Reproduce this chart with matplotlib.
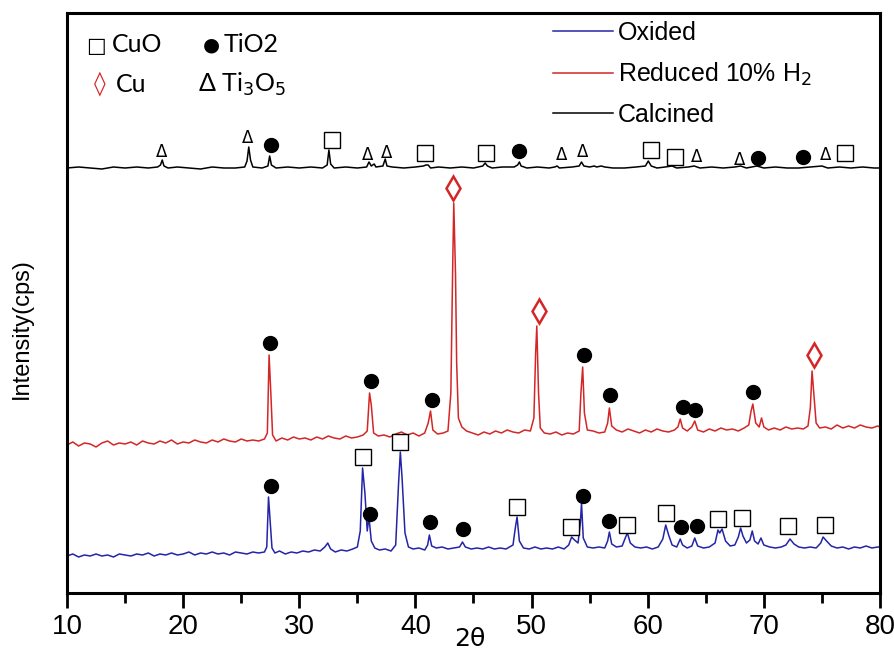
import matplotlib
matplotlib.use("Agg")
import matplotlib.pyplot as plt

# ---- data (2theta, intensity in arbitrary cps, stacked traces) ----
oxided_x = [10.0, 10.5, 11.0, 11.5, 12.0, 12.5, 13.0, 13.5, 14.0, 14.5, 15.0, 15.5, 16.0, 16.5,
            17.0, 17.5, 18.0, 18.5, 19.0, 19.5, 20.0, 20.5, 21.0, 21.5, 22.0, 22.5, 23.0, 23.5,
            24.0, 24.5, 25.0, 25.5, 26.0, 26.5, 27.0, 27.2, 27.35, 27.5, 27.65, 27.9, 28.3, 28.8,
            29.3, 29.8, 30.3, 30.8, 31.3, 31.8, 32.2, 32.45, 32.7, 33.1, 33.6, 34.1, 34.6, 35.0,
            35.25, 35.45, 35.65, 35.85, 36.0, 36.2, 36.5, 36.9, 37.4, 37.9, 38.3, 38.55, 38.7,
            38.85, 39.1, 39.4, 39.8, 40.3, 40.8, 41.05, 41.2, 41.4, 41.8, 42.3, 42.8, 43.3, 43.8,
            44.05, 44.3, 44.8, 45.3, 45.8, 46.3, 46.8, 47.3, 47.8, 48.4, 48.6, 48.75, 48.95, 49.3,
            49.8, 50.3, 50.8, 51.3, 51.8, 52.3, 52.8, 53.2, 53.45, 53.7, 54.0, 54.2, 54.3, 54.45,
            54.8, 55.3, 55.8, 56.3, 56.55, 56.7, 56.9, 57.3, 57.8, 58.1, 58.25, 58.5, 58.9, 59.4,
            59.9, 60.4, 60.9, 61.3, 61.55, 61.8, 62.1, 62.5, 62.8, 63.0, 63.4, 63.8, 64.05, 64.3,
            64.8, 65.3, 65.8, 66.05, 66.2, 66.4, 66.7, 67.1, 67.5, 67.8, 68.0, 68.2, 68.5, 68.8,
            69.0, 69.2, 69.5, 69.75, 70.0, 70.5, 71.0, 71.5, 71.9, 72.25, 72.6, 73.0, 73.5, 74.0,
            74.5, 74.9, 75.1, 75.4, 75.8, 76.3, 76.8, 77.3, 77.8, 78.3, 78.8, 79.3, 79.8, 80.0]
oxided_y = [37, 39, 36, 38, 37, 39, 37, 38, 36, 39, 38, 37, 39, 38,
            40, 37, 39, 38, 40, 38, 39, 41, 38, 40, 39, 41, 39, 40,
            38, 41, 40, 39, 41, 40, 41, 46, 96, 70, 45, 40, 42, 39,
            41, 40, 42, 41, 43, 42, 46, 50, 44, 41, 43, 42, 44, 46,
            62, 125, 100, 62, 76, 52, 45, 43, 44, 42, 48, 110, 141,
            115, 60, 46, 44, 45, 43, 48, 58, 47, 45, 46, 44, 45, 46,
            51, 46, 44, 45, 44, 46, 44, 45, 44, 48, 65, 76, 52, 45,
            44, 46, 44, 45, 44, 46, 44, 48, 56, 53, 50, 70, 90, 55,
            46, 45, 46, 45, 52, 61, 49, 46, 47, 56, 60, 50, 46, 45,
            46, 44, 46, 54, 68, 58, 48, 46, 54, 48, 45, 47, 55, 47,
            45, 46, 50, 63, 60, 64, 52, 47, 48, 56, 65, 57, 50, 53,
            62, 52, 49, 55, 48, 46, 45, 46, 48, 54, 49, 46, 45, 46,
            45, 50, 56, 52, 47, 45, 46, 44, 46, 45, 47, 45, 46, 46]

reduced_x = [10.0, 10.5, 11.0, 11.5, 12.0, 12.5, 13.0, 13.5, 14.0, 14.5, 15.0, 15.5, 16.0, 16.5,
             17.0, 17.5, 18.0, 18.5, 19.0, 19.5, 20.0, 20.5, 21.0, 21.5, 22.0, 22.5, 23.0, 23.5,
             24.0, 24.5, 25.0, 25.5, 26.0, 26.5, 27.0, 27.25, 27.4, 27.55, 27.7, 28.0, 28.5, 29.0,
             29.5, 30.0, 30.5, 31.0, 31.5, 32.0, 32.5, 33.0, 33.5, 34.0, 34.5, 35.0, 35.5, 35.85,
             36.05, 36.2, 36.4, 36.8, 37.3, 37.8, 38.3, 38.8, 39.3, 39.8, 40.3, 40.8, 41.1, 41.3,
             41.5, 41.9, 42.4, 42.8, 43.05, 43.2, 43.3, 43.45, 43.55, 43.7, 44.0, 44.4, 44.9, 45.4,
             45.9, 46.4, 46.9, 47.4, 47.9, 48.4, 48.9, 49.4, 49.9, 50.2, 50.35, 50.45, 50.6, 50.75,
             51.1, 51.6, 52.1, 52.6, 53.1, 53.6, 54.1, 54.25, 54.4, 54.55, 54.8, 55.3, 55.8, 56.3,
             56.55, 56.7, 56.9, 57.3, 57.8, 58.3, 58.8, 59.3, 59.8, 60.3, 60.8, 61.3, 61.8, 62.3,
             62.6, 62.8, 63.0, 63.4, 63.8, 64.05, 64.3, 64.8, 65.3, 65.8, 66.3, 66.8, 67.3, 67.8,
             68.3, 68.7, 68.9, 69.05, 69.3, 69.6, 69.8, 70.0, 70.4, 70.9, 71.4, 71.9, 72.4, 72.9,
             73.4, 73.8, 74.0, 74.15, 74.3, 74.5, 74.8, 75.3, 75.8, 76.3, 76.8, 77.3, 77.8, 78.3,
             78.8, 79.3, 79.8, 80.0]
reduced_y = [148, 151, 147, 150, 149, 146, 150, 152, 148, 150, 149, 151, 148, 152,
             150, 149, 152, 150, 153, 149, 151, 150, 153, 151, 150, 153, 151, 154,
             152, 151, 154, 152, 153, 152, 154, 160, 238, 200, 158, 152, 155, 153,
             156, 154, 155, 153, 156, 154, 157, 155, 154, 157, 155, 156, 158, 162,
             200, 188, 160, 157, 158, 156, 159, 161, 158, 160, 157, 160, 170, 182,
             163, 159, 160, 162, 200, 320, 390, 320, 230, 175, 166, 162, 160, 158,
             161, 159, 162, 160, 163, 161, 160, 163, 162, 175, 240, 267, 200, 165,
             160, 159, 161, 158, 160, 159, 162, 200, 226, 180, 163, 162, 160, 161,
             170, 185, 167, 163, 161, 164, 162, 160, 163, 161, 164, 162, 161, 163,
             166, 174, 165, 162, 166, 172, 163, 161, 164, 162, 165, 163, 164, 162,
             165, 168, 182, 189, 170, 166, 175, 166, 163, 165, 163, 166, 164, 165,
             164, 167, 185, 222, 200, 170, 165, 166, 164, 168, 165, 167, 165, 168,
             166, 165, 167, 166]

calcined_x = [10.0, 11.0, 12.0, 13.0, 14.0, 15.0, 16.0, 17.0, 17.8, 18.05, 18.2, 18.35, 18.7,
              19.5, 20.5, 21.5, 22.5, 23.5, 24.5, 25.3, 25.5, 25.65, 25.8, 26.0, 26.8, 27.3,
              27.45, 27.6, 28.0, 29.0, 30.0, 31.0, 32.0, 32.4, 32.55, 32.7, 33.0, 34.0, 35.0,
              35.8, 36.0, 36.2, 36.45, 36.6, 37.2, 37.4, 37.55, 38.0, 39.0, 40.0, 40.7, 40.9,
              41.1, 41.3, 42.0, 43.0, 44.0, 45.0, 45.8, 46.0, 46.2, 46.6, 47.5, 48.5, 48.8,
              48.95, 49.1, 49.6, 50.5, 51.5, 52.0, 52.2, 52.4, 53.5, 54.1, 54.3, 54.5, 55.0,
              55.4, 55.6, 56.0, 56.3, 57.0, 58.0, 59.0, 59.8, 60.05, 60.3, 60.8, 61.5, 62.1,
              62.5, 63.5, 64.0, 64.5, 65.5, 66.5, 67.5, 68.0, 68.5, 69.4, 70.0, 71.0, 72.0,
              73.0, 74.0, 75.0, 75.5, 76.5, 77.5, 78.5, 79.5, 80.0]
calcined_y = [425, 426, 425, 424, 426, 425, 426, 425, 426, 428, 433, 427, 425,
              426, 425, 424, 426, 425, 425, 426, 432, 446, 433, 426, 425, 427,
              437, 428, 425, 426, 425, 426, 425, 428, 443, 429, 425, 426, 425,
              426, 431, 427, 429, 426, 427, 434, 427, 426, 425, 426, 427, 428,
              428, 425, 426, 425, 426, 425, 427, 430, 427, 425, 426, 426, 428,
              431, 427, 425, 426, 425, 426, 427, 425, 426, 427, 431, 427, 426,
              427, 426, 427, 426, 425, 425, 426, 427, 432, 427, 425, 426, 427,
              425, 426, 427, 425, 426, 425, 426, 427, 425, 427, 425, 426, 425,
              425, 426, 427, 425, 426, 425, 426, 425, 425]

# phase markers (2theta, height)
cuo_x = [32.82, 40.82, 46.08, 60.28, 62.35, 76.99,
         35.49, 38.67, 48.75, 53.4, 58.22, 61.58, 66.06, 68.09, 72.07, 75.27]
cuo_y = [453, 440, 440, 443, 436, 440,
         136, 151, 86, 66, 68, 80, 74, 75, 67, 68]
tio2_x = [27.56, 48.92, 69.5, 73.35,
          27.48, 36.15, 41.43, 54.51, 56.75, 63.04, 64.07, 69.04,
          27.56, 36.09, 41.25, 44.1, 54.4, 56.67, 62.87, 64.25]
tio2_y = [448, 442, 435, 436,
          250, 212, 193, 238, 198, 186, 183, 201,
          107, 79, 71, 64, 97, 72, 66, 67]
cu_x = [43.24, 50.64, 74.29]
cu_y = [405, 282, 238]
ti3o5_x = [18.18, 25.58, 35.92, 37.55, 52.6, 54.4, 64.22, 67.95, 75.27]
ti3o5_y = [441, 455, 438, 440, 438, 441, 436, 433, 438]

BLUE = "#2424a8"
RED = "#d42626"

W, H = 895, 650


def fpos(x, y):
    return x / W, 1 - y / H


fig = plt.figure(figsize=(8.95, 6.5), dpi=100)
ax = fig.add_axes([67 / W, 57 / H, 813 / W, 580 / H])

ax.plot(oxided_x, oxided_y, color=BLUE, lw=1.1, label="Oxided")
ax.plot(reduced_x, reduced_y, color=RED, lw=1.1, label="Reduced 10% H$_2$")
ax.plot(calcined_x, calcined_y, color="black", lw=1.1, label="Calcined")

ax.plot(cuo_x, cuo_y, ls="none", marker="s", ms=11.5, mfc="white", mec="black", mew=1.0)
ax.plot(tio2_x, tio2_y, ls="none", marker="o", ms=10, color="black")
ax.plot(cu_x, cu_y, ls="none", marker="d", ms=12.5, mfc="white", mec=RED, mew=1.8)
for x, y in zip(ti3o5_x, ti3o5_y):
    ax.text(x, y, "Δ", ha="center", va="center", fontsize=12, family="DejaVu Sans")

ax.set_xlim(10, 80)
ax.set_ylim(0, 580)
ax.set_xticks(range(10, 81, 10))
ax.set_xticks(range(15, 80, 10), minor=True)
ax.set_yticks([])
ax.tick_params(axis="x", which="major", direction="out", length=11, width=2,
               labelsize=20, pad=4)
ax.tick_params(axis="x", which="minor", direction="out", length=7, width=2)
for lab in ax.get_xticklabels():
    lab.set_family("Liberation Sans")
for sp in ax.spines.values():
    sp.set_linewidth(2.2)

ax.set_xlabel("2θ", fontsize=18, family="DejaVu Sans")
ax.xaxis.set_label_coords((470 - 67) / 813, (593 - 627) / 580)
ax.set_ylabel("Intensity(cps)", fontsize=17, family="Liberation Sans")
ax.yaxis.set_label_coords((33 - 67) / 813, (593 - 329) / 580)

ax.legend(loc="upper left", bbox_to_anchor=fpos(553, 21), bbox_transform=fig.transFigure,
          frameon=False, prop={"family": "Liberation Sans", "size": 18},
          handlelength=2.4, handletextpad=0.2, labelspacing=0.62,
          borderpad=0, borderaxespad=0)

# phase key, top left
fam = ["Lato", "DejaVu Sans"]
fig.text(*fpos(86, 46), "□", fontsize=15, ha="left", va="center", family="DejaVu Sans")
fig.text(*fpos(112, 45), "CuO", fontsize=18, ha="left", va="center", family=fam)
fig.text(*fpos(203, 45), "●", fontsize=14, ha="left", va="center", family="DejaVu Sans")
fig.text(*fpos(224, 45), "TiO2", fontsize=18, ha="left", va="center", family=fam)
fig.text(*fpos(94, 84), "◊", fontsize=17, ha="left", va="center", color=RED,
         family="DejaVu Sans", weight="bold")
fig.text(*fpos(116, 84), "Cu", fontsize=18, ha="left", va="center", family=fam)
fig.text(*fpos(198, 84), "Δ Ti$_3$O$_5$", fontsize=18, ha="left", va="center", family=fam)

fig.savefig("out.png", dpi=100)
